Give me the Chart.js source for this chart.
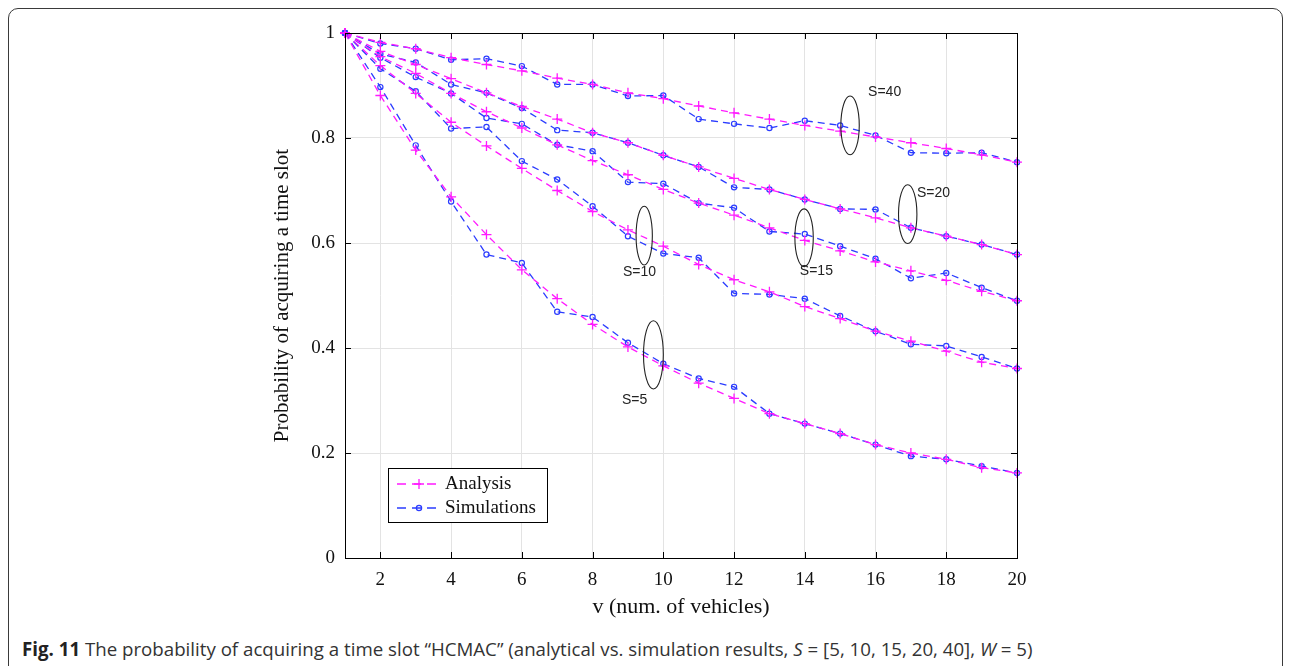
<!DOCTYPE html>
<html>
<head>
<meta charset="utf-8">
<script src="https://cdn.jsdelivr.net/npm/chart.js@4.4.1/dist/chart.umd.min.js"></script>
<style>
  html, body { margin: 0; padding: 0; background: #fff; }
  body { width: 1293px; height: 666px; overflow: hidden; position: relative; }
  #frame {
    position: absolute; left: 8px; top: 8px; width: 1275px; height: 700px;
    border: 1.5px solid #3a3a3a; border-radius: 10px; box-sizing: border-box;
  }
  #wrap { position: absolute; left: 0; top: 0; width: 1293px; height: 630px; }
  #caption {
    position: absolute; left: 22px; top: 636px; white-space: nowrap;
    font-family: "Open Sans", sans-serif; font-size: 18.7px; color: #333;
  }
  #caption b { font-weight: 700; color: #222; }
</style>
</head>
<body>
<div id="frame"></div>
<div id="wrap"><canvas id="chart" width="1293" height="630"></canvas></div>
<div id="caption"><b>Fig. 11</b> The probability of acquiring a time slot “HCMAC” (analytical vs. simulation results, <i>S</i> = [5, 10, 15, 20, 40], <i>W</i> = 5)</div>
<script>
const vehicles = [1, 2, 3, 4, 5, 6, 7, 8, 9, 10, 11, 12, 13, 14, 15, 16, 17, 18, 19, 20];
const xTicks = [2, 4, 6, 8, 10, 12, 14, 16, 18, 20];
const yTicks = [0, 0.2, 0.4, 0.6, 0.8, 1];
const yTickLabels = ['0', '0.2', '0.4', '0.6', '0.8', '1'];

const analysisS5  = [1.0, 0.881, 0.777, 0.688, 0.616, 0.549, 0.494, 0.445, 0.402, 0.366, 0.333, 0.304, 0.275, 0.256, 0.237, 0.216, 0.200, 0.188, 0.172, 0.162];
const simS5       = [1.0, 0.897, 0.786, 0.679, 0.578, 0.562, 0.469, 0.459, 0.410, 0.370, 0.342, 0.326, 0.275, 0.256, 0.237, 0.216, 0.194, 0.188, 0.175, 0.162];
const analysisS10 = [1.0, 0.938, 0.885, 0.830, 0.785, 0.742, 0.700, 0.660, 0.625, 0.594, 0.559, 0.530, 0.507, 0.479, 0.456, 0.432, 0.413, 0.394, 0.373, 0.361];
const simS10      = [1.0, 0.932, 0.889, 0.818, 0.821, 0.756, 0.721, 0.670, 0.613, 0.580, 0.572, 0.504, 0.502, 0.494, 0.461, 0.432, 0.407, 0.404, 0.383, 0.361];
const analysisS15 = [1.0, 0.955, 0.923, 0.885, 0.850, 0.819, 0.787, 0.757, 0.730, 0.702, 0.676, 0.653, 0.629, 0.605, 0.585, 0.564, 0.547, 0.529, 0.508, 0.490];
const simS15      = [1.0, 0.953, 0.916, 0.885, 0.838, 0.827, 0.787, 0.775, 0.716, 0.713, 0.676, 0.667, 0.622, 0.617, 0.594, 0.570, 0.533, 0.543, 0.515, 0.490];
const analysisS20 = [1.0, 0.965, 0.940, 0.913, 0.886, 0.860, 0.836, 0.810, 0.791, 0.767, 0.745, 0.723, 0.702, 0.683, 0.665, 0.648, 0.629, 0.613, 0.597, 0.578];
const simS20      = [1.0, 0.960, 0.944, 0.902, 0.886, 0.857, 0.815, 0.810, 0.791, 0.767, 0.745, 0.706, 0.702, 0.683, 0.665, 0.664, 0.629, 0.613, 0.597, 0.578];
const analysisS40 = [1.0, 0.982, 0.970, 0.953, 0.940, 0.928, 0.914, 0.902, 0.886, 0.875, 0.861, 0.848, 0.836, 0.824, 0.813, 0.802, 0.791, 0.780, 0.768, 0.754];
const simS40      = [1.0, 0.980, 0.970, 0.949, 0.951, 0.937, 0.902, 0.902, 0.880, 0.881, 0.836, 0.827, 0.819, 0.833, 0.824, 0.805, 0.772, 0.771, 0.772, 0.754];

// ellipse callouts, in data units
const callouts = [
  { label: 'S=40', cx: 15.28, cy: 0.824, rx: 0.26, ry: 0.056, tx: 15.79, ty: 0.887 },
  { label: 'S=20', cx: 16.91, cy: 0.655, rx: 0.26, ry: 0.056, tx: 17.17, ty: 0.695 },
  { label: 'S=15', cx: 13.98, cy: 0.610, rx: 0.26, ry: 0.055, tx: 13.86, ty: 0.547 },
  { label: 'S=10', cx: 9.46,  cy: 0.614, rx: 0.23, ry: 0.056, tx: 8.86,  ty: 0.545 },
  { label: 'S=5',  cx: 9.72,  cy: 0.387, rx: 0.28, ry: 0.065, tx: 8.83,  ty: 0.300 }
];

const magenta = '#ff1aff';
const blue = '#2b3cff';
const serif = '"Liberation Serif", "Times New Roman", serif';

function toPoints(arr) {
  return arr.map((y, i) => ({ x: vehicles[i], y: y }));
}

function analysisSet(arr) {
  return {
    label: 'Analysis', data: toPoints(arr), borderColor: magenta, borderWidth: 1.3,
    borderDash: [7, 5], pointStyle: 'cross', pointRadius: 5, pointBorderWidth: 1.3,
    pointBorderColor: magenta, pointBackgroundColor: magenta, fill: false, tension: 0, clip: 8
  };
}
function simSet(arr) {
  return {
    label: 'Simulations', data: toPoints(arr), borderColor: blue, borderWidth: 1.3,
    borderDash: [7, 5], pointStyle: 'circle', pointRadius: 2.6, pointBorderWidth: 1.2,
    pointBorderColor: blue, pointBackgroundColor: 'rgba(255,255,255,0)', fill: false, tension: 0, clip: 8
  };
}

const boxPlugin = {
  id: 'box',
  afterDatasetsDraw(chart) {
    const { ctx, chartArea: a, scales: { x, y } } = chart;
    ctx.save();
    ctx.strokeStyle = '#000';
    ctx.lineWidth = 1;
    ctx.strokeRect(a.left + 0.5, a.top + 0.5, a.right - a.left, a.bottom - a.top);
    ctx.beginPath();
    xTicks.forEach(v => {
      const px = Math.round(x.getPixelForValue(v)) + 0.5;
      ctx.moveTo(px, a.bottom); ctx.lineTo(px, a.bottom - 6);
      ctx.moveTo(px, a.top); ctx.lineTo(px, a.top + 6);
    });
    yTicks.forEach(v => {
      const py = Math.round(y.getPixelForValue(v)) + 0.5;
      ctx.moveTo(a.left, py); ctx.lineTo(a.left + 6, py);
      ctx.moveTo(a.right, py); ctx.lineTo(a.right - 6, py);
    });
    ctx.stroke();

    // callouts
    ctx.strokeStyle = '#222';
    ctx.lineWidth = 1.1;
    ctx.fillStyle = '#222';
    ctx.font = '14px "Liberation Sans", Arial, sans-serif';
    ctx.textBaseline = 'middle';
    ctx.textAlign = 'left';
    callouts.forEach(c => {
      const cx = x.getPixelForValue(c.cx), cy = y.getPixelForValue(c.cy);
      const rx = x.getPixelForValue(c.cx + c.rx) - cx;
      const ry = cy - y.getPixelForValue(c.cy + c.ry);
      ctx.beginPath();
      ctx.ellipse(cx, cy, rx, ry, 0, 0, Math.PI * 2);
      ctx.stroke();
      ctx.fillText(c.label, x.getPixelForValue(c.tx), y.getPixelForValue(c.ty));
    });

    // legend
    const lx = a.left + 43, ly = a.top + 435, lw = 159, lh = 54;
    ctx.fillStyle = '#fff';
    ctx.fillRect(lx, ly, lw, lh);
    ctx.strokeStyle = '#000';
    ctx.lineWidth = 1;
    ctx.strokeRect(lx + 0.5, ly + 0.5, lw, lh);
    const rows = [chart.data.datasets[0], chart.data.datasets[1]];
    rows.forEach((ds, i) => {
      const ry = ly + 16 + i * 24;
      ctx.strokeStyle = ds.borderColor;
      ctx.lineWidth = 1.3;
      ctx.setLineDash([9, 6]);
      ctx.beginPath();
      ctx.moveTo(lx + 9, ry); ctx.lineTo(lx + 53, ry);
      ctx.stroke();
      ctx.setLineDash([]);
      const mx = lx + 31;
      ctx.beginPath();
      if (ds.pointStyle === 'cross') {
        ctx.moveTo(mx - 5, ry); ctx.lineTo(mx + 5, ry);
        ctx.moveTo(mx, ry - 5); ctx.lineTo(mx, ry + 5);
      } else {
        ctx.arc(mx, ry, 2.6, 0, Math.PI * 2);
      }
      ctx.stroke();
      ctx.fillStyle = '#111';
      ctx.font = '19px ' + serif;
      ctx.textBaseline = 'middle';
      ctx.fillText(ds.label, lx + 57, ry);
    });
    ctx.restore();
  }
};

const ctx = document.getElementById('chart').getContext('2d');
const myChart = new Chart(ctx, {
  type: 'line',
  data: {
    datasets: [
      analysisSet(analysisS5), simSet(simS5),
      analysisSet(analysisS10), simSet(simS10),
      analysisSet(analysisS15), simSet(simS15),
      analysisSet(analysisS20), simSet(simS20),
      analysisSet(analysisS40), simSet(simS40)
    ]
  },
  options: {
    responsive: false,
    animation: false,
    layout: { padding: { left: 265, right: 276, top: 33, bottom: 10 } },
    plugins: { legend: { display: false }, tooltip: { enabled: false } },
    scales: {
      x: {
        type: 'linear', min: 1, max: 20,
        afterBuildTicks: s => { s.ticks = xTicks.map(v => ({ value: v })); },
        afterFit: s => { s.height = 62; },
        grid: { color: '#e3e3e3', lineWidth: 1, drawTicks: false },
        border: { display: false },
        ticks: { color: '#111', padding: 11, font: { family: serif, size: 19 } },
        title: { display: true, text: 'v (num. of vehicles)', color: '#111',
                 font: { family: serif, size: 22 }, padding: { top: 0, bottom: 0 } }
      },
      y: {
        type: 'linear', min: 0, max: 1,
        afterBuildTicks: s => { s.ticks = yTicks.map(v => ({ value: v })); },
        afterFit: s => { s.width = 80; },
        grid: { color: '#e3e3e3', lineWidth: 1, drawTicks: false },
        border: { display: false },
        ticks: {
          color: '#111', padding: 10, font: { family: serif, size: 19 },
          callback: (v, i) => yTickLabels[i]
        },
        title: { display: true, text: 'Probability of acquiring a time slot', color: '#111',
                 font: { family: serif, size: 21 }, padding: { top: 5, bottom: 0 } }
      }
    }
  },
  plugins: [boxPlugin]
});
</script>
</body>
</html>
